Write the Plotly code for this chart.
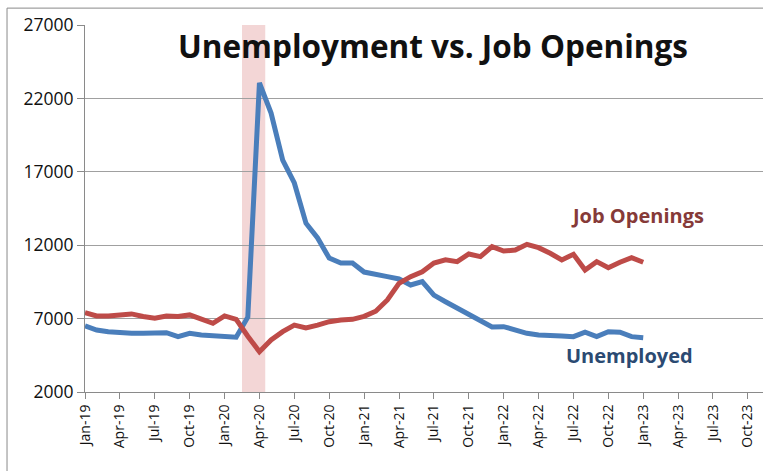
import plotly.graph_objects as go

# Monthly series, Jan-2019 through Jan-2023 (thousands)
months = [f"{m}-{y}" for y in ("19", "20", "21", "22") for m in
          ("Jan", "Feb", "Mar", "Apr", "May", "Jun", "Jul", "Aug", "Sep", "Oct", "Nov", "Dec")] + ["Jan-23"]

unemployed = [
    6500, 6220, 6110, 6040, 6000, 6000, 6000, 6040, 5770, 6000, 5880, 5820,
    5770, 5730, 7100, 23050, 21000, 17800, 16240, 13500, 12490, 11120, 10790, 10790,
    10170, 10050, 9860, 9700, 9290, 9520, 8600, 8150, 7720, 7250, 6900, 6430,
    6450, 6220, 6000, 5880, 5880, 5820, 5770, 6070, 5770, 6110, 6070, 5770,
    5700,
]

job_openings = [
    7400, 7180, 7180, 7250, 7320, 7140, 7030, 7180, 7140, 7250, 6920, 6680,
    7180, 6950, 5800, 4740, 5540, 6110, 6560, 6360, 6560, 6790, 6900, 6950,
    7150, 7500, 8270, 9400, 9860, 10190, 10780, 11000, 10880, 11400, 11220, 11900,
    11600, 11670, 12060, 11830, 11450, 11000, 11380, 10310, 10880, 10470, 10840, 11150,
    10840,
]

# Quarterly tick labels along the date axis
tick_labels = [f"{m}-{y}" for y in ("19", "20", "21", "22", "23") for m in ("Jan", "Apr", "Jul", "Oct")]

# Recession band: Feb-2020 peak to Apr-2020 trough
recession = ("Feb-20", "Apr-20")

x_idx = list(range(len(months)))
tick_idx = [3 * i for i in range(len(tick_labels))]
rec0 = months.index(recession[0]) + 0.5
rec1 = months.index(recession[1]) + 0.5

BLUE = "#4A7EBB"
RED = "#BE4B48"
FONT = "Open Sans"

fig = go.Figure()
fig.add_trace(go.Scatter(x=x_idx, y=unemployed, mode="lines", name="Unemployed",
                         line=dict(color=BLUE, width=5)))
fig.add_trace(go.Scatter(x=x_idx, y=job_openings, mode="lines", name="Job Openings",
                         line=dict(color=RED, width=5)))

fig.add_vrect(x0=rec0, x1=rec1, fillcolor="#F3D6D6", opacity=1, line_width=0, layer="below")

# Outer chart frame (top and left edges)
fig.add_shape(type="line", xref="paper", yref="paper", x0=-0.115, x1=1.2, y0=1.046, y1=1.046,
              line=dict(color="#8a8a8a", width=1))
fig.add_shape(type="line", xref="paper", yref="paper", x0=-0.115, x1=-0.115, y0=1.046, y1=-0.4,
              line=dict(color="#8a8a8a", width=1))

fig.add_annotation(text="<b>Unemployment vs. Job Openings</b>", xref="paper", yref="paper",
                   x=0.513, y=0.943, xanchor="center", yanchor="middle", showarrow=False,
                   font=dict(family=FONT, size=31.5, color="#111111"))
fig.add_annotation(text="<b>Job Openings</b>", x=47.5, y=14050, showarrow=False,
                   xanchor="center", yanchor="middle",
                   font=dict(family=FONT, size=20, color="#863A38"))
fig.add_annotation(text="<b>Unemployed</b>", x=46.8, y=4520, showarrow=False,
                   xanchor="center", yanchor="middle",
                   font=dict(family=FONT, size=20, color="#2B4A72"))

fig.update_layout(
    width=763, height=471,
    margin=dict(l=85, r=0, t=25, b=79),
    paper_bgcolor="white", plot_bgcolor="white",
    showlegend=False,
    font=dict(family=FONT, color="#111111"),
)
fig.update_xaxes(
    range=[0, 58.3], tickmode="array", tickvals=tick_idx, ticktext=tick_labels,
    tickangle=-90, ticks="outside", ticklen=6, tickcolor="#8a8a8a",
    tickfont=dict(family=FONT, size=14, color="#111111"),
    showgrid=False, showline=True, linecolor="#8a8a8a", linewidth=1, zeroline=False,
)
fig.update_yaxes(
    range=[2000, 27000], tickmode="linear", tick0=2000, dtick=5000, tickformat="d",
    ticks="outside", ticklen=7, tickcolor="#8a8a8a",
    tickfont=dict(family=FONT, size=17.5, color="#111111"),
    showgrid=True, gridcolor="#a0a0a0", gridwidth=1,
    showline=True, linecolor="#8a8a8a", linewidth=1, zeroline=False,
)

fig.write_html("out.html")
